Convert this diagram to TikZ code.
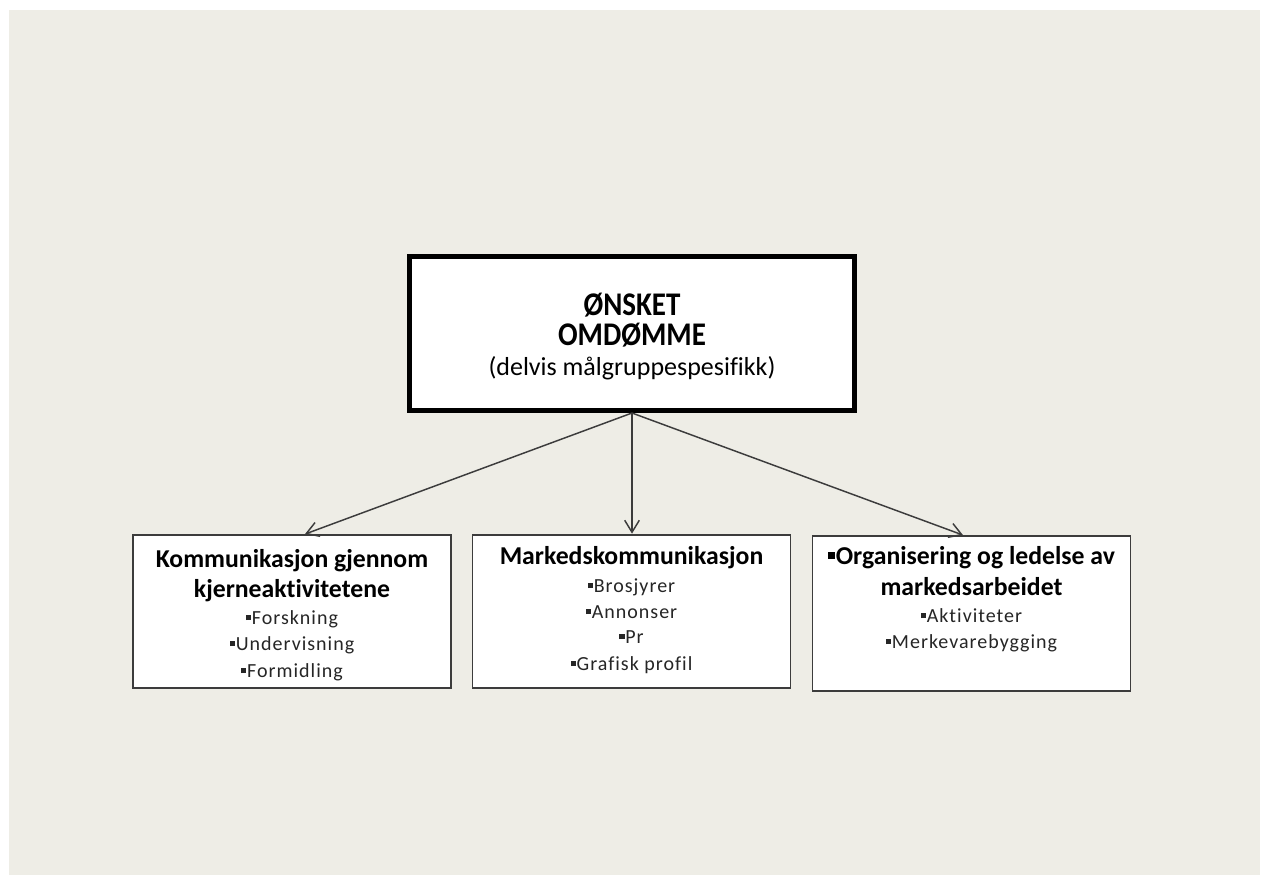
\documentclass[tikz,border=0pt]{standalone}
\usepackage{fontspec}
\setmainfont[Ligatures=NoCommon]{Carlito}
\newfontfamily\itemfont[Ligatures=NoCommon,LetterSpace=5]{Carlito}
\usetikzlibrary{arrows.meta}
\definecolor{bgc}{HTML}{EEEDE6}
\definecolor{edgec}{HTML}{3C3C3C}
\newcommand\bul{\rule[0.2em]{0.26em}{0.26em}\hspace{0.04em}}
\newcommand\tallhead[1]{\scalebox{1}[1.14]{#1}}
\begin{document}
\begin{tikzpicture}[x=0.75pt,y=-0.75pt,
  lowbox/.style={draw=edgec,line width=1.4pt,fill=white,inner sep=0pt,minimum width=238.5pt},
  headtxt/.style={anchor=base,inner sep=0pt,font=\fontsize{21.75}{24}\selectfont\bfseries},
  subtxt/.style={anchor=base,inner sep=0pt,font=\fontsize{19.5}{22}\selectfont},
  titletxt/.style={anchor=base,inner sep=0pt,font=\fontsize{19.3}{22}\selectfont\bfseries},
  itemtxt/.style={anchor=base,inner sep=0pt,text=black!85,font=\itemfont\fontsize{15}{17}\selectfont},
  conn/.style={draw=edgec,line width=1.1pt,-{Straight Barb[length=9pt,width=11pt,line width=1.1pt]}}
]
\useasboundingbox (0,0) rectangle (1262,875);
\fill[white] (0,0) rectangle (1262,875);
\fill[bgc] (9,10) rectangle (1260,875);

% top box
\node[draw=black,line width=3.75pt,fill=white,inner sep=0pt,minimum width=333.75pt,minimum height=115.5pt] (top) at (632,333.5) {};
\node[headtxt] (t1) at (632,315) {\tallhead{ØNSKET}};
\node[headtxt] (t2) at (632,345) {\tallhead{OMDØMME}};
\node[subtxt] (t3) at (632,375) {(delvis målgruppespesifikk)};

% lower boxes
\node[lowbox,minimum height=114.75pt] (left) at (292,611.5) {};
\node[lowbox,minimum height=115pt] (mid) at (631.5,611.25) {};
\node[lowbox,minimum height=116.25pt] (right) at (971.5,613.5) {};

% left box text
\node[titletxt] (l1) at (292,567) {Kommunikasjon gjennom};
\node[titletxt] (l2) at (292,597) {kjerneaktivitetene};
\node[itemtxt] (l3) at (292,624) {\bul Forskning};
\node[itemtxt] (l4) at (292,650) {\bul Undervisning};
\node[itemtxt] (l5) at (292,677) {\bul Formidling};

% middle box text
\node[titletxt] (m1) at (631.5,564) {Markedskommunikasjon};
\node[itemtxt] (m2) at (631.5,592) {\bul Brosjyrer};
\node[itemtxt] (m3) at (631.5,618) {\bul Annonser};
\node[itemtxt] (m4) at (631.5,643) {\bul Pr};
\node[itemtxt] (m5) at (631.5,670) {\bul Grafisk profil};

% right box text
\node[titletxt] (r1) at (971.5,564) {\bul Organisering og ledelse av};
\node[titletxt] (r2) at (971.5,595) {markedsarbeidet};
\node[itemtxt] (r3) at (971.5,622) {\bul Aktiviteter};
\node[itemtxt] (r4) at (971.5,648) {\bul Merkevarebygging};

% connectors
\draw[conn] (top.south) -- ([xshift=9.75pt]left.north);
\draw[conn] (top.south) -- ([xshift=0.375pt]mid.north);
\draw[conn] (top.south) -- ([xshift=-6.4pt]right.north);
\end{tikzpicture}
\end{document}
